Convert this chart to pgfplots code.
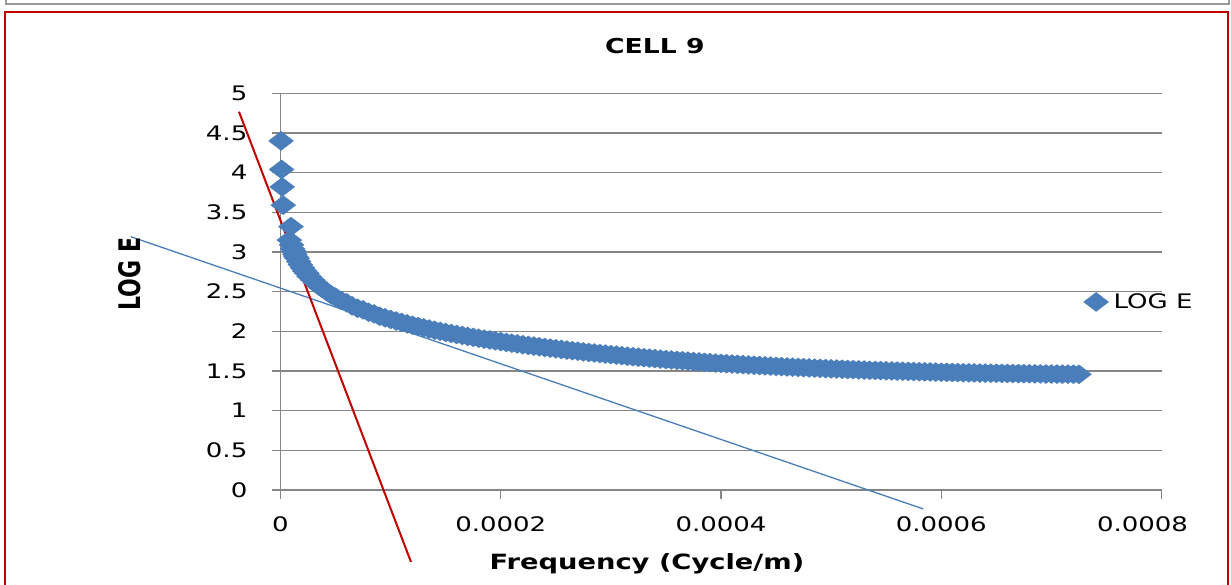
\documentclass[border=0pt]{standalone}
\usepackage{fontspec}
\setmainfont{DejaVu Sans}[FakeStretch=1.3]
\newfontfamily\plainfont{DejaVu Sans}
\usepackage{graphicx}
\usepackage{pgfplots}
\pgfplotsset{compat=1.18}
\definecolor{markblue}{RGB}{74,126,187}
\definecolor{fitred}{RGB}{192,0,0}
\definecolor{gridgray}{RGB}{134,134,134}

% frequency (cycle/m) and log E
\pgfplotstableread{
f loge
0.5e-6 4.40
1.0e-6 4.04
1.5e-6 3.82
2.5e-6 3.59
9.5e-6 3.32
8.0e-6 3.15
1.0e-5 3.09
1.1e-5 3.04
1.2e-5 3.01
1.3e-5 2.97
1.4e-5 2.94
1.5e-5 2.92
1.65e-5 2.88
1.8e-5 2.84
2.0e-5 2.80
2.2e-5 2.76
2.4e-5 2.73
2.6e-5 2.69
2.9e-5 2.65
3.2e-5 2.61
3.5e-5 2.57
3.8e-5 2.54
4.2e-5 2.50
4.6e-5 2.46
5.0e-5 2.43
5.5e-5 2.39
6.0e-5 2.36
6.5e-5 2.32
7.0e-5 2.29
7.5e-5 2.27
8.0e-5 2.24
8.5e-5 2.22
9.0e-5 2.19
9.5e-5 2.17
1.00e-4 2.150
1.05e-4 2.130
1.10e-4 2.112
1.15e-4 2.094
1.20e-4 2.076
1.25e-4 2.060
1.30e-4 2.044
1.35e-4 2.029
1.40e-4 2.014
1.45e-4 2.000
1.50e-4 1.986
1.55e-4 1.973
1.60e-4 1.960
1.65e-4 1.948
1.70e-4 1.936
1.75e-4 1.924
1.80e-4 1.913
1.85e-4 1.901
1.90e-4 1.891
1.95e-4 1.880
2.00e-4 1.870
2.05e-4 1.860
2.10e-4 1.850
2.15e-4 1.841
2.20e-4 1.831
2.25e-4 1.822
2.30e-4 1.814
2.35e-4 1.805
2.40e-4 1.796
2.45e-4 1.788
2.50e-4 1.780
2.55e-4 1.772
2.60e-4 1.764
2.65e-4 1.756
2.70e-4 1.749
2.75e-4 1.741
2.80e-4 1.734
2.85e-4 1.727
2.90e-4 1.720
2.95e-4 1.713
3.00e-4 1.706
3.05e-4 1.700
3.10e-4 1.693
3.15e-4 1.686
3.20e-4 1.680
3.25e-4 1.674
3.30e-4 1.668
3.35e-4 1.662
3.40e-4 1.656
3.45e-4 1.650
3.50e-4 1.644
3.55e-4 1.639
3.60e-4 1.634
3.65e-4 1.629
3.70e-4 1.624
3.75e-4 1.619
3.80e-4 1.614
3.85e-4 1.609
3.90e-4 1.605
3.95e-4 1.600
4.00e-4 1.596
4.05e-4 1.592
4.10e-4 1.588
4.15e-4 1.584
4.20e-4 1.580
4.25e-4 1.576
4.30e-4 1.572
4.35e-4 1.569
4.40e-4 1.565
4.45e-4 1.562
4.50e-4 1.558
4.55e-4 1.555
4.60e-4 1.551
4.65e-4 1.548
4.70e-4 1.545
4.75e-4 1.542
4.80e-4 1.539
4.85e-4 1.536
4.90e-4 1.533
4.95e-4 1.530
5.00e-4 1.527
5.05e-4 1.525
5.10e-4 1.522
5.15e-4 1.519
5.20e-4 1.517
5.25e-4 1.514
5.30e-4 1.512
5.35e-4 1.509
5.40e-4 1.507
5.45e-4 1.505
5.50e-4 1.503
5.55e-4 1.501
5.60e-4 1.499
5.65e-4 1.497
5.70e-4 1.495
5.75e-4 1.493
5.80e-4 1.491
5.85e-4 1.489
5.90e-4 1.488
5.95e-4 1.486
6.00e-4 1.484
6.05e-4 1.483
6.10e-4 1.481
6.15e-4 1.480
6.20e-4 1.478
6.25e-4 1.477
6.30e-4 1.476
6.35e-4 1.474
6.40e-4 1.473
6.45e-4 1.472
6.50e-4 1.471
6.55e-4 1.470
6.60e-4 1.469
6.65e-4 1.468
6.70e-4 1.467
6.75e-4 1.466
6.80e-4 1.465
6.85e-4 1.464
6.90e-4 1.463
6.95e-4 1.462
7.00e-4 1.462
7.05e-4 1.461
7.10e-4 1.460
7.15e-4 1.460
7.20e-4 1.459
7.25e-4 1.458
}\celldata

\begin{document}
\begin{tikzpicture}
\useasboundingbox (0,0) rectangle (1231bp,585bp);
% frames of the sheet
\draw[gray!80, line width=1.2bp] (6bp,592bp) -- (6bp,581bp) -- (1229bp,581bp) -- (1229bp,592bp);
\draw[fitred, line width=2bp] (5bp,-10bp) -- (5bp,572.5bp) -- (1228bp,572.5bp) -- (1228bp,-10bp);
\begin{axis}[
    at={(280.5bp,95bp)}, anchor=south west,
    scale only axis, width=881bp, height=396.7bp,
    xmin=0, xmax=0.0008, ymin=0, ymax=5,
    clip=false,
    axis lines*=left,
    axis line style={gridgray, line width=1.4bp},
    tick style={gridgray, line width=1.3bp},
    major tick length=9bp, tick align=outside,
    ymajorgrids, grid style={gridgray, line width=1.3bp},
    scaled x ticks=false,
    xtick={0,0.0002,0.0004,0.0006},
    xticklabels={0,0.0002,0.0004,0.0006},
    extra x ticks={0.0008},
    extra x tick labels={0.0008},
    extra x tick style={xticklabel style={xshift=-19bp}},
    ytick={0,0.5,1,1.5,2,2.5,3,3.5,4,4.5,5},
    yticklabels={0,0.5,1,1.5,2,2.5,3,3.5,4,4.5,5},
    tick label style={font=\fontsize{20bp}{24bp}\selectfont, inner sep=0pt},
    yticklabel style={anchor=east, xshift=-24bp},
    xticklabel style={anchor=north, yshift=-17bp},
    title={CELL 9},
    title style={at={(axis description cs:0.425,1.103)}, anchor=center,
                 font=\fontsize{20.5bp}{24bp}\selectfont\bfseries},
    xlabel={Frequency (Cycle/m)},
    xlabel style={at={(axis description cs:0.416,-0.186)}, anchor=center,
                  font=\fontsize{21bp}{25bp}\selectfont\bfseries},
    ylabel={\scalebox{1}[1.35]{\plainfont\bfseries LOG E}},
    ylabel style={at={(axis description cs:-0.1716,0.544)}, anchor=center,
                  font=\fontsize{22bp}{26bp}\selectfont},
    legend style={at={(axis description cs:0.9114,0.474)}, anchor=west,
                  draw=none, fill=none, inner sep=0pt,
                  font=\fontsize{20bp}{24bp}\selectfont},
]
\addplot[markblue, line width=1.3bp, forget plot]
    coordinates {(-1.360e-4,3.193) (5.837e-4,-0.239)};
% the dense run of points merges into one band
\addplot[markblue, line width=15bp, line join=round, line cap=round,
         restrict x to domain=1e-5:8e-4, forget plot]
    table[x=f, y=loge] {\celldata};
\addplot[only marks, mark=diamond*, mark size=9.5bp, color=markblue,
         mark options={xscale=1.75, draw=markblue, fill=markblue}]
    table[x=f, y=loge] {\celldata};
\addlegendentry{\hspace*{3bp}LOG E}
\addplot[fitred, line width=2bp, forget plot]
    coordinates {(-3.77e-5,4.768) (1.185e-4,-0.907)};
\end{axis}
\end{tikzpicture}
\end{document}
